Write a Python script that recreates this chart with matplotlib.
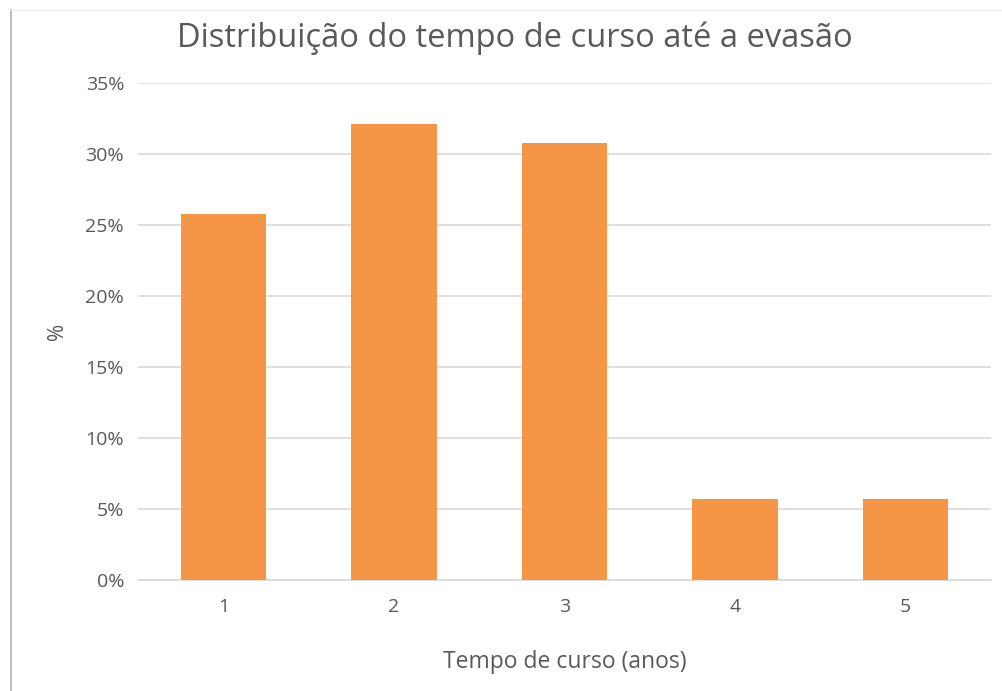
import matplotlib
matplotlib.use("Agg")
import matplotlib.pyplot as plt
from matplotlib.lines import Line2D
from matplotlib.ticker import FuncFormatter

# data
anos = ["1", "2", "3", "4", "5"]
percentuais = [25.8, 32.1, 30.8, 5.7, 5.7]
y_ticks = [0, 5, 10, 15, 20, 25, 30, 35]

plt.rcParams['font.family'] = ['Open Sans', 'DejaVu Sans']
text_color = '#595959'

fig = plt.figure(figsize=(10.03, 6.91), dpi=100)
ax = fig.add_axes([0.1376, 0.1606, 0.8505, 0.7193])

x = range(len(anos))
ax.bar(x, percentuais, width=0.5, color='#F59646', zorder=3)

ax.set_xlim(-0.5, len(anos) - 0.5)
ax.set_ylim(0, 35)
ax.set_yticks(y_ticks)
ax.yaxis.set_major_formatter(FuncFormatter(lambda v, _: f"{v:.0f}%"))
ax.set_xticks(list(x))
ax.set_xticklabels(anos)

ax.grid(axis='y', color='#D9D9D9', linewidth=1.2, zorder=0)
for side in ['top', 'right', 'left']:
    ax.spines[side].set_visible(False)
ax.spines['bottom'].set_color('#D9D9D9')
ax.spines['bottom'].set_linewidth(1.2)
ax.tick_params(axis='both', length=0, labelsize=14, colors=text_color)
ax.tick_params(axis='x', pad=13)
ax.tick_params(axis='y', pad=10)

ax.set_xlabel("Tempo de curso (anos)", fontsize=16.5, color=text_color)
ax.set_ylabel("%", fontsize=15, color=text_color)
ax.xaxis.set_label_coords(0.5, -0.14)
ax.yaxis.set_label_coords(-0.082, 0.5)
fig.text(0.513, 0.944, "Distribuição do tempo de curso até a evasão",
         ha='center', va='center', fontsize=23.5, color=text_color)

# chart container border (left and top edges visible)
fig.add_artist(Line2D([0.0105, 0.0105], [0, 0.986], color='#BFBFBF', linewidth=1.5))
fig.add_artist(Line2D([0.0105, 1.0], [0.986, 0.986], color='#EDEDED', linewidth=1.0))

fig.savefig("out.png", dpi=100)
